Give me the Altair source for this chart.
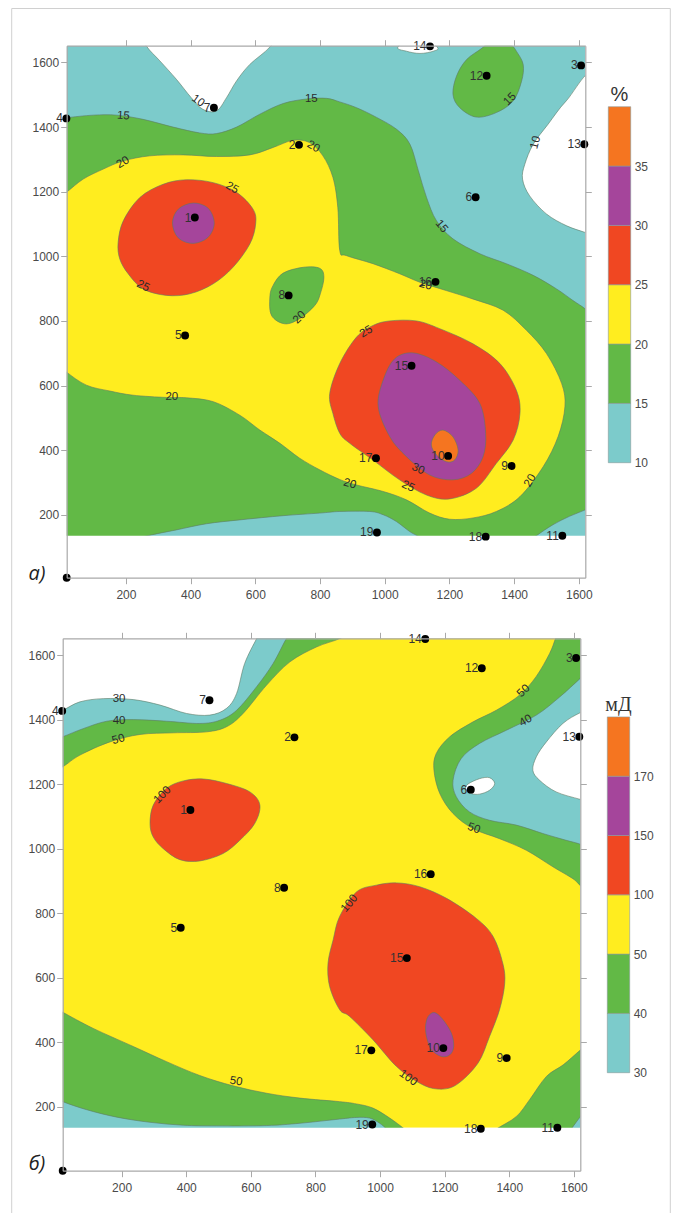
import altair as alt
import pandas as pd

W, H = 663, 1205
CYAN, GREEN, YELLOW, RED, PURPLE, ORANGE = "#7CCBCB", "#62B946", "#FFED1F", "#F04722", "#A5459B", "#F57520"
WHITE = "#FFFFFF"
LEGEND_COLORS = [CYAN, GREEN, YELLOW, RED, PURPLE, ORANGE]

# wells (well number, x, y)
WELL_NO = [1, 2, 3, 4, 5, 6, 7, 8, 9, 10, 11, 12, 13, 14, 15, 16, 17, 18, 19]
WELL_X = [413, 735, 1607, 16, 383, 1281, 472, 703, 1392, 1196, 1549, 1315, 1617, 1140, 1083, 1157, 973, 1312, 976]
WELL_Y = [1120, 1345, 1591, 1427, 755, 1183, 1460, 879, 351, 382, 135, 1559, 1347, 1650, 661, 921, 375, 132, 145]

TICKS_X = [200, 400, 600, 800, 1000, 1200, 1400, 1600]
TICKS_Y = [200, 400, 600, 800, 1000, 1200, 1400, 1600]

# ---- panel a: contour outlines ----
A_WHITE_NOTCH = [(240, 1700), (264, 1650), (305, 1605), (356, 1548), (402, 1491), (438, 1455), (480, 1450), (511, 1491),
                 (542, 1543), (583, 1594), (645, 1648), (670, 1700), (450, 1710)]
A_WHITE_14 = [(1041, 1648), (1067, 1635), (1109, 1628), (1150, 1635), (1162, 1648), (1100, 1690)]
A_WHITE_13 = [(1654, 1568), (1561, 1481), (1505, 1409), (1459, 1347), (1433, 1285), (1426, 1239), (1448, 1187),
              (1500, 1131), (1561, 1095), (1619, 1074), (1664, 1059), (1700, 1300)]
A_GREEN_12 = [(1304, 1647), (1253, 1609), (1222, 1558), (1211, 1501), (1232, 1460), (1283, 1431), (1345, 1445),
              (1397, 1481), (1423, 1542), (1428, 1594), (1407, 1635), (1392, 1654), (1350, 1690)]
A_GREEN_BIG = [(-20, 1425), (16, 1429), (99, 1437), (171, 1437), (253, 1424), (346, 1400), (428, 1382), (480, 1380),
               (542, 1400), (614, 1440), (686, 1473), (758, 1487), (820, 1489), (861, 1478), (913, 1460), (975, 1430),
               (1037, 1393), (1078, 1347), (1104, 1265), (1129, 1183), (1160, 1110), (1211, 1054), (1294, 1008),
               (1376, 977), (1459, 941), (1531, 899), (1582, 863), (1620, 837), (1660, 800), (1665, 600), (1665, 300),
               (1660, 110), (1500, 100), (1000, 100), (500, 100), (100, 100), (-20, 110), (-25, 600), (-25, 1200)]
A_CYAN_BL = [(223, 118), (269, 135), (356, 153), (449, 172), (552, 184), (686, 197), (799, 205), (861, 210), (954, 210),
             (995, 200), (1036, 179), (1077, 148), (1103, 133), (1129, 112), (700, 100)]
A_CYAN_BR = [(1440, 110), (1469, 135), (1520, 169), (1571, 195), (1620, 215), (1664, 236), (1680, 100)]
A_YELLOW = [(-25, 1170), (16, 1198), (68, 1239), (130, 1270), (191, 1295), (274, 1311), (377, 1314), (480, 1309), (583, 1314),
            (655, 1337), (716, 1359), (768, 1352), (809, 1311), (840, 1244), (855, 1151), (861, 1018), (882, 1002),
            (964, 977), (1046, 946), (1108, 920), (1190, 894), (1272, 868), (1366, 833), (1438, 771), (1500, 699),
            (1547, 606), (1557, 534), (1536, 442), (1490, 349), (1418, 256), (1345, 210), (1273, 190), (1201, 186),
            (1139, 205), (1067, 246), (995, 272), (913, 292), (861, 309), (799, 339), (737, 375), (676, 421), (614, 462),
            (552, 508), (470, 550), (387, 562), (325, 563), (222, 570), (150, 583), (78, 601), (16, 642), (-25, 680), (-30, 900)]
A_GREEN_8 = [(645, 874), (655, 910), (686, 948), (748, 966), (799, 963), (812, 935), (801, 884), (784, 848), (737, 807),
             (691, 791), (650, 817)]
A_RED_L = [(176, 1043), (192, 1110), (243, 1182), (315, 1223), (387, 1237), (470, 1228), (542, 1198), (593, 1146),
           (601, 1100), (583, 1038), (531, 966), (470, 915), (398, 884), (325, 879), (253, 899), (207, 946), (181, 992)]
A_PURPLE_L = [(344, 1103), (362, 1146), (408, 1165), (454, 1149), (473, 1103), (454, 1059), (408, 1040), (362, 1057)]
A_RED_R = [(861, 668), (830, 575), (840, 513), (861, 452), (892, 421), (964, 369), (1046, 308), (1129, 261), (1201, 249),
           (1283, 282), (1345, 359), (1397, 431), (1418, 513), (1407, 585), (1356, 668), (1273, 729), (1170, 776),
           (1098, 800), (1016, 800), (964, 786), (913, 750)]
A_PURPLE_R = [(980, 534), (995, 616), (1031, 683), (1088, 701), (1160, 673), (1232, 616), (1294, 544), (1312, 452),
              (1304, 380), (1268, 328), (1211, 308), (1139, 323), (1067, 380), (1016, 441)]
A_ORANGE = [(1144, 416), (1155, 447), (1180, 462), (1211, 441), (1227, 400), (1216, 369), (1191, 364), (1160, 385)]

A_LABELS = ["10", "15", "15", "20", "20", "25", "25", "20", "20", "15", "10", "15", "20", "25", "30", "25", "20", "20"]
A_LABEL_X = [423, 192, 773, 191, 779, 528, 253, 737, 342, 1388, 1467, 1175, 1126, 943, 1103, 1072, 892, 1450]
A_LABEL_Y = [1481, 1434, 1488, 1290, 1339, 1211, 907, 810, 563, 1486, 1352, 1092, 910, 766, 341, 287, 295, 305]
A_LABEL_ANGLE = [35, 5, 0, 330, 30, 30, 25, 315, 0, 315, 285, 50, 15, 330, 25, 25, 15, 300]

# ---- panel b: contour outlines ----
B_GREEN_TL = [(-30, 1230), (18, 1254), (71, 1290), (164, 1331), (257, 1354), (360, 1359), (463, 1362), (525, 1378), (576, 1419),
              (649, 1507), (721, 1579), (803, 1625), (875, 1651), (917, 1677), (900, 1705), (600, 1710), (300, 1710), (0, 1710),
              (-30, 1690), (-35, 1450)]
B_CYAN_TL = [(-30, 1330), (18, 1347), (81, 1372), (154, 1395), (236, 1400), (339, 1395), (442, 1388), (504, 1398), (556, 1429),
             (618, 1502), (669, 1574), (710, 1651), (736, 1687), (720, 1705), (400, 1710), (100, 1710), (-30, 1690), (-35, 1500)]
B_WHITE_TL = [(-30, 1410), (18, 1429), (71, 1455), (143, 1465), (236, 1462), (319, 1445), (401, 1419), (473, 1414), (525, 1435),
              (556, 1481), (581, 1574), (618, 1651), (638, 1687), (620, 1705), (300, 1710), (0, 1710), (-30, 1690), (-35, 1550)]
B_GREEN_R = [(1556, 1687), (1543, 1651), (1525, 1605), (1483, 1533), (1432, 1476), (1360, 1429), (1288, 1393), (1216, 1347),
             (1174, 1295), (1167, 1243), (1185, 1171), (1226, 1109), (1288, 1062), (1370, 1031), (1453, 995), (1535, 944),
             (1597, 907), (1619, 887), (1649, 866), (1670, 1000), (1680, 1300), (1680, 1600), (1650, 1700), (1600, 1705)]
B_CYAN_R = [(1659, 1564), (1619, 1527), (1556, 1470), (1484, 1414), (1391, 1367), (1308, 1326), (1251, 1279), (1226, 1212),
            (1236, 1161), (1277, 1114), (1339, 1088), (1422, 1073), (1504, 1047), (1576, 1026), (1619, 1014), (1659, 995),
            (1680, 1300)]
B_WHITE_13 = [(1669, 1439), (1619, 1421), (1566, 1388), (1515, 1331), (1484, 1285), (1473, 1243), (1494, 1212), (1545, 1176),
              (1619, 1153), (1669, 1140), (1700, 1300)]
B_WHITE_6 = [(1272, 1200), (1308, 1217), (1339, 1220), (1355, 1202), (1339, 1181), (1308, 1169), (1282, 1171), (1265, 1184)]
B_RED_L = [(288, 1078), (298, 1135), (339, 1187), (391, 1210), (453, 1216), (525, 1202), (597, 1176), (628, 1135), (612, 1078),
           (566, 1026), (514, 985), (442, 962), (380, 966), (329, 1000), (298, 1036)]
B_RED_R = [(875, 790), (927, 866), (989, 887), (1051, 894), (1123, 882), (1206, 846), (1298, 784), (1350, 728), (1380, 645),
           (1386, 583), (1370, 501), (1339, 418), (1303, 335), (1236, 268), (1179, 255), (1123, 273), (1051, 325), (978, 408),
           (906, 480), (875, 501), (844, 573), (839, 645), (855, 718)]
B_PURPLE = [(1141, 449), (1149, 480), (1169, 492), (1195, 470), (1221, 428), (1228, 387), (1216, 361), (1190, 356), (1159, 377),
            (1145, 413)]
B_GREEN_BL = [(-30, 520), (18, 493), (112, 443), (236, 387), (339, 340), (442, 297), (545, 265), (649, 242), (752, 227), (875, 216),
              (927, 209), (978, 196), (1030, 165), (1076, 131), (1102, 108), (900, 100), (600, 100), (300, 100), (-30, 105), (-35, 300)]
B_CYAN_BL = [(-30, 240), (18, 216), (92, 191), (185, 168), (288, 152), (391, 143), (494, 141), (649, 142), (752, 149), (875, 162),
             (927, 167), (968, 165), (999, 149), (1020, 131), (1040, 108), (700, 100), (300, 100), (-30, 105), (-35, 170)]
B_GREEN_BR = [(1329, 108), (1360, 131), (1422, 170), (1463, 222), (1515, 294), (1567, 330), (1619, 375), (1659, 408), (1680, 250), (1660, 105), (1500, 100)]
B_CYAN_BR = [(1570, 100), (1592, 131), (1619, 168), (1644, 196), (1680, 100)]

B_LABELS = ["30", "40", "50", "100", "50", "40", "50", "100", "50", "100"]
B_LABEL_X = [192, 192, 190, 327, 1445, 1451, 1290, 906, 554, 1087]
B_LABEL_Y = [1463, 1396, 1338, 1166, 1488, 1396, 1062, 830, 278, 289]
B_LABEL_ANGLE = [0, 0, 345, 315, 315, 330, 20, 310, 10, 35]

A_LEVELS = [10, 15, 20, 25, 30, 35, 40]
B_LEVELS = [30, 40, 50, 100, 150, 170, 190]

STROKE = "#5d7a66"
AXC = "#a9a9a9"
TXT = "#4a4a4a"
FONT = "Liberation Sans"


def polygon(points, color, sx, sy):
    df = pd.DataFrame({"i": range(len(points)), "x": [p[0] for p in points], "y": [p[1] for p in points]})
    return alt.Chart(df).mark_line(fill=color, stroke=STROKE, strokeWidth=0.7, strokeOpacity=0.85,
                                   interpolate="cardinal-closed").encode(
        x=alt.X("x:Q", scale=sx, axis=None),
        y=alt.Y("y:Q", scale=sy, axis=None),
        order=alt.Order("i:Q"))


def box(df, color, sx, sy, xaxis=None, yaxis=None):
    return alt.Chart(df).mark_rect(fill=color, stroke=None).encode(
        x=alt.X("x:Q", scale=sx, axis=xaxis), x2="x2:Q",
        y=alt.Y("y:Q", scale=sy, axis=yaxis), y2="y2:Q")


def axis(orient, offset, values, labels=True, pad=2):
    return alt.Axis(orient=orient, offset=offset, values=values, title=None, grid=False, labels=labels,
                    domainColor=AXC, domainWidth=1.2, tickColor=AXC, tickWidth=1, tickSize=6,
                    labelColor=TXT, labelFont=FONT, labelFontSize=12, labelPadding=pad, zindex=1, format="d")


def panel(rng_x, rng_y, dom_x, dom_y, base_color, shapes, labels, tag, tag_x, tag_y):
    sx = alt.Scale(domain=dom_x, range=rng_x, nice=False, zero=False)
    sy = alt.Scale(domain=dom_y, range=rng_y, nice=False, zero=False)
    base = pd.DataFrame({"x": [dom_x[0]], "x2": [dom_x[1]], "y": [135], "y2": [dom_y[1]]})
    masks = pd.DataFrame({
        "x": [-150, dom_x[1], -150, -150],
        "x2": [dom_x[0], 1720, 1720, 1720],
        "y": [-60, -60, dom_y[1], -60],
        "y2": [1750, 1750, 1750, 135]})
    layers = [box(base, base_color, sx, sy,
                  axis("bottom", rng_y[0] - H, TICKS_X, pad=5.5), axis("left", -rng_x[0], TICKS_Y))]
    layers += [polygon(p, c, sx, sy) for p, c in shapes]
    layers.append(box(masks, WHITE, sx, sy,
                      axis("top", -rng_y[1], TICKS_X, False), axis("right", rng_x[1] - W, TICKS_Y, False)))
    lab = pd.DataFrame({"x": labels[1], "y": labels[2], "t": labels[0], "a": labels[3]})
    layers.append(alt.Chart(lab).mark_text(font=FONT, fontSize=11.5, color="#2b2b2b", baseline="middle").encode(
        x=alt.X("x:Q", scale=sx, axis=None), y=alt.Y("y:Q", scale=sy, axis=None), text="t:N",
        angle=alt.Angle("a:Q", scale=None)))
    wells = pd.DataFrame({"x": WELL_X, "y": WELL_Y, "n": WELL_NO})
    layers.append(alt.Chart(wells).mark_text(font=FONT, fontSize=12, color="#333333", align="right",
                                             baseline="middle", dx=-3.5).encode(
        x=alt.X("x:Q", scale=sx, axis=None), y=alt.Y("y:Q", scale=sy, axis=None), text="n:N"))
    origin = pd.DataFrame({"x": [dom_x[0]], "y": [dom_y[0]]})
    for d in (wells, origin):
        layers.append(alt.Chart(d).mark_circle(size=62, color="#000000", opacity=1).encode(
            x=alt.X("x:Q", scale=sx, axis=None), y=alt.Y("y:Q", scale=sy, axis=None)))
    tg = pd.DataFrame({"x": [tag_x], "y": [tag_y], "t": [tag]})
    layers.append(alt.Chart(tg).mark_text(font="Open Sans", fontSize=20, fontStyle="italic", color="#222222").encode(
        x=alt.X("x:Q", scale=sx, axis=None), y=alt.Y("y:Q", scale=sy, axis=None), text="t:N"))
    return alt.layer(*layers).resolve_axis(x="independent", y="independent")


def legend(levels, px_x, px_y, title, font, fsize):
    sx = alt.Scale(domain=[0, 1], range=px_x, nice=False, zero=False)
    sy = alt.Scale(domain=levels, range=px_y, nice=False, zero=False)
    df = pd.DataFrame({"x": [0] * 6, "x2": [1] * 6, "y": levels[:-1], "y2": levels[1:], "c": LEGEND_COLORS})
    ax = alt.Axis(orient="right", offset=px_x[1] - W, values=levels[:-1], title=None, grid=False, domain=False,
                  ticks=False, tickSize=0, labelColor=TXT, labelFont=FONT, labelFontSize=12, labelPadding=3.5, format="d")
    bars = alt.Chart(df).mark_rect(stroke="#8a9a9a", strokeWidth=0.6).encode(
        x=alt.X("x:Q", scale=sx, axis=None), x2="x2:Q",
        y=alt.Y("y:Q", scale=sy, axis=ax), y2="y2:Q",
        color=alt.Color("c:N", scale=None))
    t = pd.DataFrame({"x": [0.5], "y": [levels[-1]], "t": [title]})
    txt = alt.Chart(t).mark_text(font=font, fontSize=fsize, color="#333333", baseline="bottom", dy=-2).encode(
        x=alt.X("x:Q", scale=sx, axis=None), y=alt.Y("y:Q", scale=sy, axis=None), text="t:N")
    return alt.layer(bars, txt).resolve_axis(x="independent", y="independent")


panel_a = panel([58.7, 577.3], [569.7, 37.7], [17, 1620], [5, 1652], CYAN,
                [(A_WHITE_NOTCH, WHITE), (A_WHITE_14, WHITE), (A_WHITE_13, WHITE), (A_GREEN_12, GREEN),
                 (A_GREEN_BIG, GREEN), (A_CYAN_BL, CYAN), (A_CYAN_BR, CYAN), (A_YELLOW, YELLOW), (A_GREEN_8, GREEN),
                 (A_RED_L, RED), (A_PURPLE_L, PURPLE), (A_RED_R, RED), (A_PURPLE_R, PURPLE), (A_ORANGE, ORANGE)],
                (A_LABELS, A_LABEL_X, A_LABEL_Y, A_LABEL_ANGLE), "а)", -75, 15)
panel_b = panel([54.7, 572.3], [1162.7, 630.3], [17.6, 1620], [2, 1652], YELLOW,
                [(B_GREEN_TL, GREEN), (B_CYAN_TL, CYAN), (B_WHITE_TL, WHITE), (B_GREEN_R, GREEN), (B_CYAN_R, CYAN),
                 (B_WHITE_13, WHITE), (B_WHITE_6, WHITE), (B_GREEN_BL, GREEN), (B_CYAN_BL, CYAN), (B_GREEN_BR, GREEN),
                 (B_CYAN_BR, CYAN), (B_RED_L, RED), (B_RED_R, RED), (B_PURPLE, PURPLE)],
                (B_LABELS, B_LABEL_X, B_LABEL_Y, B_LABEL_ANGLE), "б)", -62, 22)

legend_a = legend(A_LEVELS, [600.3, 622.7], [454.7 - 59.33 * i for i in range(7)], "%", FONT, 20)
legend_b = legend(B_LEVELS, [599.3, 621.7], [1064.7 - 59.3 * i for i in range(7)], "мД", "Liberation Serif", 20)

frame = [
    alt.Chart().mark_rule(color="#d0d0d0", strokeWidth=1).encode(x=alt.value(3.7), y=alt.value(0.5), y2=alt.value(H)),
    alt.Chart().mark_rule(color="#d0d0d0", strokeWidth=1).encode(x=alt.value(W - 0.7), y=alt.value(0.5), y2=alt.value(H)),
    alt.Chart().mark_rule(color="#d0d0d0", strokeWidth=1).encode(x=alt.value(3.7), x2=alt.value(W - 0.7), y=alt.value(0.5)),
]

chart = alt.layer(panel_a, legend_a, panel_b, legend_b, *frame).resolve_scale(
    x="independent", y="independent"
).resolve_axis(x="independent", y="independent").properties(
    width=W, height=H, padding=0, autosize=alt.AutoSizeParams(type="none"), background="white"
).configure_view(stroke=None)

chart.save("out.html", embed_options={"renderer": "svg", "actions": False})
